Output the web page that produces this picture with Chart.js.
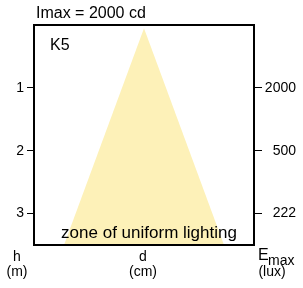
<!DOCTYPE html>
<html>
<head>
<meta charset="utf-8">
<script src="https://cdn.jsdelivr.net/npm/chart.js@4"></script>
<style>
html,body{margin:0;padding:0;background:#fff;}
#wrap{width:303px;height:288px;position:relative;}
</style>
</head>
<body>
<div id="wrap"><canvas id="c" width="303" height="288"></canvas></div>
<script>
// Data
const beamX = [-80, 0, 80];          // d (arbitrary cm units across beam)
const beamH = [3.5, 0.05, 3.5];      // h (m) of cone outline
const heightTicks = [1, 2, 3];       // h (m)
const luxLabels = ['2000', '500', '222']; // Emax (lux) at each height
const title = 'Imax = 2000 cd';
const modelLabel = 'K5';
const zoneLabel = 'zone of uniform lighting';

const FONT = '"Liberation Sans", Arial, sans-serif';

const textPlugin = {
  id: 'texts',
  afterDraw(chart) {
    const ctx = chart.ctx;
    const a = chart.chartArea;
    ctx.save();
    // frame
    ctx.strokeStyle = '#000';
    ctx.lineWidth = 2;
    ctx.strokeRect(a.left, a.top, a.right - a.left, a.bottom - a.top);
    ctx.fillStyle = '#000';
    ctx.textBaseline = 'middle';
    ctx.font = '16px ' + FONT;
    ctx.textAlign = 'left';
    ctx.fillText(title, 36, 14);
    ctx.fillText(modelLabel, 50, 46);
    ctx.textAlign = 'center';
    ctx.font = '17px ' + FONT;
    ctx.fillText(zoneLabel, 149, 233);
    ctx.font = '14px ' + FONT;
    ctx.fillText('h', 17, 257);
    ctx.fillText('(m)', 17, 272);
    ctx.fillText('d', 143, 257);
    ctx.fillText('(cm)', 143, 272);
    ctx.fillText('(lux)', 272, 272);
    ctx.textAlign = 'left';
    ctx.font = '16px ' + FONT;
    ctx.fillText('E', 258, 256);
    ctx.font = '14px ' + FONT;
    ctx.fillText('max', 268, 261);
    ctx.restore();
  }
};

new Chart(document.getElementById('c'), {
  type: 'scatter',
  data: {
    datasets: [{
      data: beamX.map((x, i) => ({x, y: beamH[i]})),
      showLine: true,
      borderWidth: 0,
      borderColor: 'rgba(0,0,0,0)',
      pointRadius: 0,
      backgroundColor: '#FDF1B8',
      fill: {value: 3.5},
      tension: 0
    }]
  },
  options: {
    responsive: false,
    animation: false,
    events: [],
    layout: {padding: {top: 25, bottom: 43, left: 0, right: 7}},
    plugins: {legend: {display: false}, tooltip: {enabled: false}},
    scales: {
      x: {type: 'linear', min: -110, max: 110, display: false},
      y: {
        type: 'linear', position: 'left', reverse: true, min: 0, max: 3.5,
        afterBuildTicks: s => { s.ticks = heightTicks.map(v => ({value: v})); },
        afterFit: s => { s.width = 34; },
        border: {display: false},
        grid: {drawOnChartArea: false, drawTicks: true, tickLength: 7, color: '#000', lineWidth: 1},
        ticks: {color: '#000', font: {family: FONT, size: 14}, padding: 3,
          callback: v => String(v)}
      },
      y2: {
        type: 'linear', position: 'right', reverse: true, min: 0, max: 3.5,
        afterBuildTicks: s => { s.ticks = heightTicks.map(v => ({value: v})); },
        afterFit: s => { s.width = 42; },
        border: {display: false},
        grid: {drawOnChartArea: false, drawTicks: true, tickLength: 8, color: '#000', lineWidth: 1},
        ticks: {color: '#000', font: {family: FONT, size: 14}, padding: 3, crossAlign: 'far',
          callback: (v) => luxLabels[heightTicks.indexOf(v)] || ''}
      }
    }
  },
  plugins: [textPlugin]
});
</script>
</body>
</html>
